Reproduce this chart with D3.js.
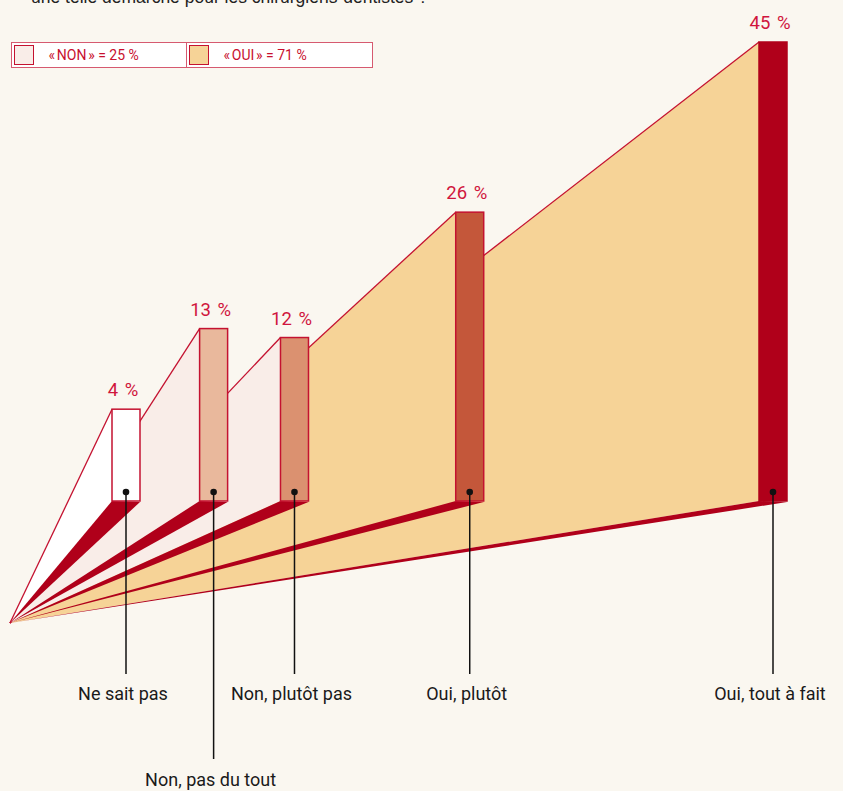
<!DOCTYPE html>
<html>
<head>
<meta charset="utf-8">
<script src="https://cdn.jsdelivr.net/npm/d3@7"></script>
<style>
    body { margin: 0; background: #faf7f0; }
    #fan-chart { width: 843px; height: 791px; overflow: hidden; }
    text { font-family: Roboto, "Noto Sans", sans-serif; }
</style>
</head>
<body>
<div id="fan-chart"></div>
<script>

// Data
const categories = ["Ne sait pas", "Non, pas du tout", "Non, plutôt pas", "Oui, plutôt", "Oui, tout à fait"];
const values = [4, 13, 12, 26, 45];
const groups = ["", "NON", "NON", "OUI", "OUI"];
const legendGroups = ["NON", "OUI"];
const question = "une telle démarche pour les chirurgiens-dentistes ?";


class FanChart {

    constructor(parentElement) {
        this.parentElement = parentElement;
        this.initVis();
    }

    initVis() {
        let vis = this;

        vis.width = 843;
        vis.height = 791;

        vis.svg = d3.select('#' + vis.parentElement).append("svg")
            .attr("width", vis.width)
            .attr("height", vis.height);

        vis.svg.append("rect")
            .attr("width", vis.width)
            .attr("height", vis.height)
            .attr("fill", "#faf7f0");

        // the point every fan leaves from, and the line the bars stand on
        vis.apex = [10, 623];
        vis.base = 501;
        vis.barWidth = 28;

        // cumulative share sets the depth of each bar
        let run = 0;
        vis.cumul = values.map(v => run += v);

        vis.x = d3.scaleLinear()
            .domain(d3.extent(vis.cumul))
            .range([112, 759]);

        vis.y = d3.scaleLinear()
            .domain([0, d3.max(values)])
            .range([445, 42]);

        vis.barColor = d3.scaleOrdinal()
            .domain(categories)
            .range(["#ffffff", "#e9b89c", "#db9170", "#c4573a", "#b0001a"]);

        vis.regionColor = d3.scaleOrdinal()
            .domain(["", "NON", "OUI"])
            .range(["#ffffff", "#f9ede8", "#f6d397"]);

        vis.displayData = categories.map((c, i) => ({
            name: c,
            value: values[i],
            group: groups[i],
            x0: vis.x(vis.cumul[i]),
            top: vis.y(values[i])
        }));

        vis.updateVis();
    }

    updateVis() {
        let vis = this;
        let red = "#c41230";
        let line = d3.line();

        // question line, cut by the top of the frame
        vis.svg.append("text")
            .attr("x", 31)
            .attr("y", 3)
            .attr("fill", "#222")
            .style("font-family", "'Liberation Sans', Arial, sans-serif")
            .style("font-size", "17.5px")
            .text(question);

        // far bars first so the nearer fans lie on top of them
        let fans = vis.svg.selectAll(".fan")
            .data(vis.displayData.slice().reverse())
            .enter().append("g")
            .attr("class", "fan");

        fans.append("path")
            .attr("fill", d => vis.regionColor(d.group))
            .attr("d", d => line([vis.apex, [d.x0, d.top], [d.x0, vis.base]]) + "Z");

        fans.append("path")
            .attr("fill", "none")
            .attr("stroke", red)
            .attr("stroke-width", 1.3)
            .attr("d", d => line([vis.apex, [d.x0, d.top]]));

        fans.append("path")
            .attr("fill", "#b0001a")
            .attr("d", d => line([vis.apex, [d.x0, vis.base], [d.x0 + vis.barWidth, vis.base + 1]]) + "Z");

        fans.append("rect")
            .attr("x", d => d.x0)
            .attr("y", d => d.top)
            .attr("width", vis.barWidth)
            .attr("height", d => vis.base - d.top)
            .attr("fill", d => vis.barColor(d.name))
            .attr("stroke", d => d.name === categories[4] ? "#b0001a" : red)
            .attr("stroke-width", 1.5);

        fans.append("text")
            .attr("x", d => d.x0 + vis.barWidth / 2 - 3)
            .attr("y", d => d.top - 13)
            .attr("text-anchor", "middle")
            .attr("fill", "#d0153d")
            .style("font-size", "18.5px")
            .style("word-spacing", "2px")
            .text(d => d.value + " %");

        // category labels: drop a label one row down when it would hit its neighbour
        let rowEnds = [-Infinity, -Infinity];
        vis.displayData.forEach(d => {
            d.cx = d.x0 + vis.barWidth / 2;
            let probe = vis.svg.append("text").style("font-size", "18px").text(d.name);
            let w = probe.node().getComputedTextLength();
            probe.remove();
            let left = d.cx - 3 - w / 2;
            d.row = left > rowEnds[0] + 8 ? 0 : 1;
            rowEnds[d.row] = left + w;
        });

        let pins = vis.svg.selectAll(".pin")
            .data(vis.displayData)
            .enter().append("g")
            .attr("class", "pin");

        pins.append("line")
            .attr("x1", d => d.cx)
            .attr("x2", d => d.cx)
            .attr("y1", 492)
            .attr("y2", d => d.row === 0 ? 674 : 759)
            .attr("stroke", "#111")
            .attr("stroke-width", 1.5);

        pins.append("circle")
            .attr("cx", d => d.cx)
            .attr("cy", 492)
            .attr("r", 3.3)
            .attr("fill", "#111");

        pins.append("text")
            .attr("x", d => d.cx - 3)
            .attr("y", d => d.row === 0 ? 700 : 786)
            .attr("text-anchor", "middle")
            .attr("fill", "#1a1a1a")
            .style("font-size", "18px")
            .text(d => d.name);

        // legend with the group totals
        let legend = vis.svg.append("g")
            .attr("transform", "translate(11.5,42.5)");

        legend.append("rect")
            .attr("width", 361)
            .attr("height", 25)
            .attr("fill", "#fff")
            .attr("stroke", "#d65a70");

        legend.append("line")
            .attr("x1", 175).attr("x2", 175)
            .attr("y1", 0).attr("y2", 25)
            .attr("stroke", "#d65a70");

        legendGroups.forEach(function (g, i) {
            let total = d3.sum(vis.displayData.filter(d => d.group === g), d => d.value);
            let item = legend.append("g")
                .attr("transform", "translate(" + (i * 175 + 3) + ",3)");
            item.append("rect")
                .attr("width", 19)
                .attr("height", 19)
                .attr("fill", vis.regionColor(g))
                .attr("stroke", red);
            item.append("text")
                .attr("x", 34)
                .attr("y", 14.5)
                .attr("fill", "#c8102e")
                .style("font-size", "14px")
                .text("«\u202F" + g + "\u202F» = " + total + " %");
        });
    }
}

let fanChart = new FanChart("fan-chart");

</script>
</body>
</html>
